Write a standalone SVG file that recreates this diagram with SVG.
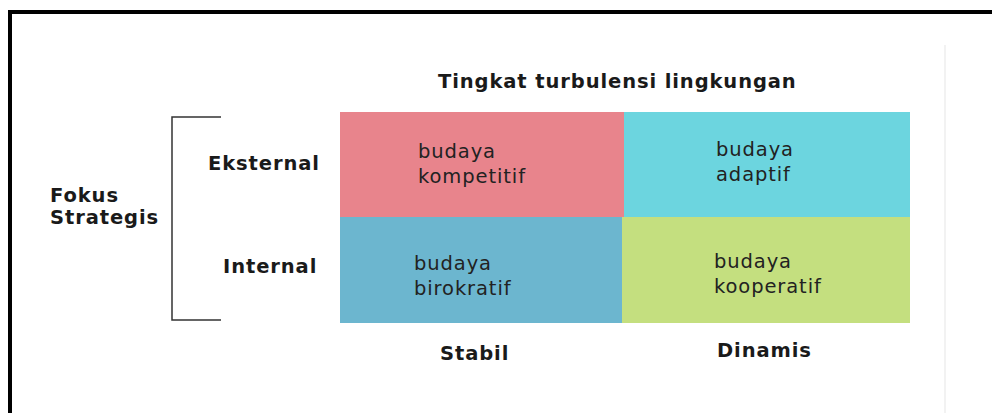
<svg xmlns="http://www.w3.org/2000/svg" width="992" height="413" viewBox="0 0 992 413">
<style>
.b{font-family:"DejaVu Sans",Verdana,sans-serif;font-weight:bold;font-size:19.5px;letter-spacing:0.9px;fill:#1a1a1a}
.t{font-family:"DejaVu Sans",Verdana,sans-serif;font-size:19.5px;letter-spacing:0.9px;fill:#222}
</style>
<rect width="992" height="413" fill="#fff"/>
<path d="M10 413 V12 H992" fill="none" stroke="#000" stroke-width="4"/>
<line x1="945" y1="45" x2="945" y2="413" stroke="#f2f2f2" stroke-width="2"/>
<text class="b" x="438" y="88">Tingkat turbulensi lingkungan</text>
<g id="cell-kompetitif">
<rect x="340" y="112" width="284" height="105" fill="#e8848c"/>
<text class="t" x="418" y="158">budaya</text>
<text class="t" x="418" y="183">kompetitif</text>
</g>
<g id="cell-adaptif">
<rect x="624" y="112" width="286" height="105" fill="#6cd5df"/>
<text class="t" x="716" y="156">budaya</text>
<text class="t" x="716" y="181">adaptif</text>
</g>
<g id="cell-birokratif">
<rect x="340" y="217" width="284" height="106" fill="#6cb6cf"/>
<text class="t" x="414" y="270">budaya</text>
<text class="t" x="414" y="295">birokratif</text>
</g>
<g id="cell-kooperatif">
<rect x="622" y="217" width="288" height="106" fill="#c4df7f"/>
<text class="t" x="714" y="268">budaya</text>
<text class="t" x="714" y="293">kooperatif</text>
</g>
<g id="axis-labels">
<text class="b" x="208" y="170">Eksternal</text>
<text class="b" x="223" y="273">Internal</text>
<text class="b" x="50" y="202">Fokus</text>
<text class="b" x="50" y="224">Strategis</text>
<text class="b" x="440" y="360">Stabil</text>
<text class="b" x="717" y="357">Dinamis</text>
</g>
<g id="connectors">
<path d="M221 117 H172 V320 H221" fill="none" stroke="#333" stroke-width="1.5"/>
</g>
</svg>
